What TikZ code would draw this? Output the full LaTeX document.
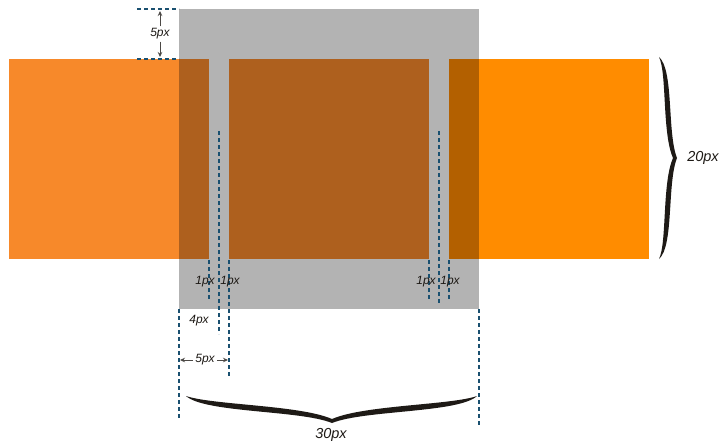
\documentclass[tikz,border=0pt]{standalone}
\usepackage{fontspec}
\setmainfont{Liberation Sans}
\usetikzlibrary{arrows.meta}
\definecolor{grayb}{HTML}{B3B3B3}
\definecolor{orangeL}{HTML}{F7892A}
\definecolor{orangeR}{HTML}{FF8C00}
\definecolor{brownL}{HTML}{AE601E}
\definecolor{brownR}{HTML}{B36000}
\definecolor{dashc}{HTML}{1A5070}
\definecolor{ink}{HTML}{1E1A16}
\tikzset{
  guide/.style={draw=dashc, line width=1.1pt, dash pattern=on 4pt off 3pt},
  small/.style={font=\itshape\fontsize{12pt}{13pt}\selectfont, text=ink, inner sep=0pt},
  big/.style={font=\itshape\fontsize{14.5pt}{16pt}\selectfont, text=ink, inner sep=0pt},
  dimarrow/.style={draw=ink!80, line width=0.9pt, -{Stealth[length=5pt,width=4.5pt]}},
}
\begin{document}
\begin{tikzpicture}[x=1pt,y=-1pt]
\useasboundingbox[fill=white] (0,0) rectangle (725,444);
% gray block
\fill[grayb] (179,9) rectangle (479,309);
% orange strips
\fill[orangeL] (9,59) rectangle (179,259);
\fill[brownL] (179,59) rectangle (209,259);
\fill[brownL] (229,59) rectangle (429,259);
\fill[brownR] (449,59) rectangle (479,259);
\fill[orangeR] (479,59) rectangle (649,259);
% guides
\coordinate (h1a) at (137,9);   \coordinate (h1b) at (179,9);
\coordinate (h2a) at (137,59);  \coordinate (h2b) at (179,59);
\draw[guide] (h1a) -- (h1b);
\draw[guide] (h2a) -- (h2b);
\draw[guide] (219,131) -- (219,334);
\draw[guide] (439,131) -- (439,305);
\draw[guide] (209,260) -- (209,300);
\draw[guide] (229,260) -- (229,378);
\draw[guide] (429,260) -- (429,300);
\draw[guide] (449,260) -- (449,300);
\draw[guide] (179,309) -- (179,418);
\draw[guide] (479,309) -- (479,427);
% 5px vertical
\node[small] (v5) at (160,34) {5px};
\coordinate (v5t) at (160,11);
\coordinate (v5b) at (160,57);
\draw[dimarrow] (v5.north) ++(0,-2) -- (v5t);
\draw[dimarrow] (v5.south) ++(0,2) -- (v5b);
% 1px labels
\node[small] (l1) at (205,282) {1px};
\node[small] (l2) at (230,282) {1px};
\node[small] (l3) at (426,282) {1px};
\node[small] (l4) at (450,282) {1px};
\node[small] (l5) at (199,321) {4px};
% 5px horizontal
\node[small] (h5) at (205,360) {5px};
\coordinate (h5l) at (180,360);
\coordinate (h5r) at (228,360);
\draw[dimarrow] (h5.west) ++(-2,0) -- (h5l);
\draw[dimarrow] (h5.east) ++(2,0) -- (h5r);
% braces
\fill[ink] (186,396) .. controls (205,413) and (300,410) .. (332,423)
  .. controls (364,410) and (459,413) .. (477,396)
  .. controls (452,405) and (364,405) .. (332,419)
  .. controls (300,405) and (212,405) .. (186,396) -- cycle;
\fill[ink] (659,57) .. controls (674,70) and (667,133) .. (677,158)
  .. controls (667,183) and (674,246) .. (659,259)
  .. controls (667,243) and (662,183) .. (673,158)
  .. controls (662,133) and (667,73) .. (659,57) -- cycle;
\node[big] (w20) at (703,158) {20px};
\node[big] (w30) at (331,435) {30px};
\end{tikzpicture}
\end{document}
